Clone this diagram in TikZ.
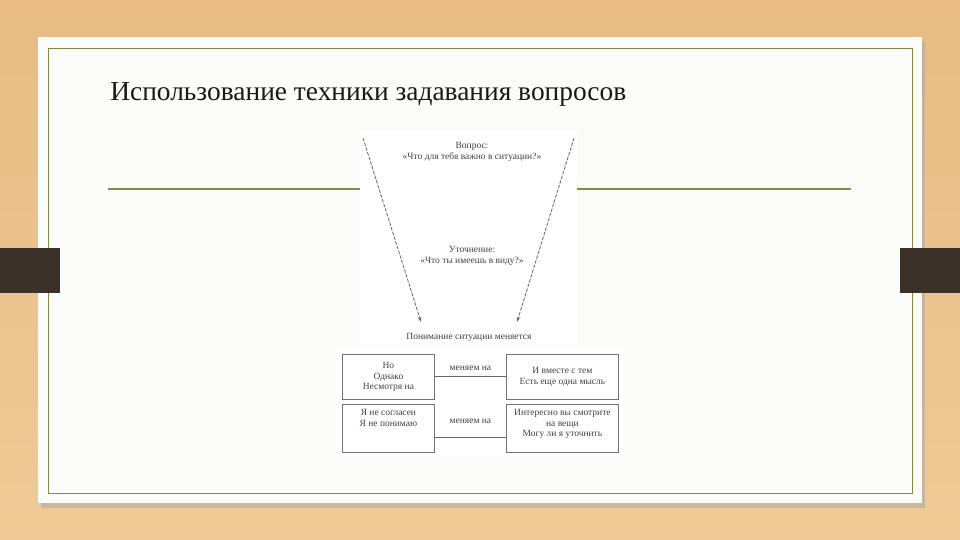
\documentclass[tikz,border=0pt]{standalone}
\usepackage{fontspec}
\setmainfont{Liberation Serif}
\usetikzlibrary{arrows.meta,positioning}
\definecolor{woodtop}{HTML}{E8BC84}
\definecolor{woodbot}{HTML}{EECA96}
\definecolor{tabbrown}{HTML}{3B3129}
\definecolor{frameolive}{HTML}{7F8B48}
\definecolor{cardwhite}{HTML}{FBFBF9}
\tikzset{
	tinytext/.style={font=\fontsize{5.4}{6}\selectfont, align=center, inner sep=0pt, text=black!75},
	phrasebox/.style={draw=black!55, line width=0.5pt, inner sep=0pt, minimum width=1.84cm},
	pointer/.style={line width=0.45pt, color=black!60, dash pattern=on 2pt off 0.8pt, -{Stealth[length=3pt,width=2pt]}},
	swapline/.style={line width=0.5pt, color=black!60}
}

\begin{document}
\begin{tikzpicture}[x=0.02cm, y=-0.02cm]
		%%%%% START %%%%%
		\useasboundingbox (0, 0) rectangle (960, 540);
		
		% slide background and card
		\shade[top color=woodtop, bottom color=woodbot] (0, 0) rectangle (960, 540);
		\fill[black!35, opacity=0.5] (41, 42) rectangle (925, 508);
		\fill[cardwhite] (38, 37) rectangle (922, 503);
		\draw[frameolive, line width=0.5pt] (48, 48) rectangle (912, 493);
		
		\fill[tabbrown] (0, 248) rectangle (60, 293);
		\fill[tabbrown] (900, 248) rectangle (960, 293);
		
		\draw[frameolive, line width=0.6pt] (108, 189) -- (360, 189);
		\draw[frameolive, line width=0.6pt] (577, 189) -- (851, 189);
		
		\node[anchor=base west, inner sep=0pt, font=\fontsize{15.6}{17}\selectfont, text=black!90] (title) at (110, 101) {Использование техники задавания вопросов};
		
		% funnel picture
		\fill[white] (360, 130) rectangle (577, 345);
		\node[tinytext] (question) at (472, 152) {Вопрос:\\«Что для тебя важно в ситуации?»};
		\node[tinytext] (clarify) at (472, 256) {Уточнение:\\«Что ты имеешь в виду?»};
		\node[tinytext] (result) at (469, 337) {Понимание ситуации меняется};
		
		\coordinate (lefttop) at (363, 138);
		\coordinate (righttop) at (574, 138);
		\coordinate (leftend) at (421, 322);
		\coordinate (rightend) at (517, 322);
		\draw[pointer] (lefttop) -- (leftend);
		\draw[pointer] (righttop) -- (rightend);
		
		% phrase boxes
		\fill[white] (336, 348) rectangle (624, 456);
		\node[phrasebox, minimum height=0.9cm, anchor=north west] (butbox) at (342, 354) {};
		\node[phrasebox, minimum height=0.96cm, anchor=north west] (disagreebox) at (342, 404) {};
		\node[phrasebox, minimum width=2.24cm, minimum height=0.9cm, anchor=north west] (alsobox) at (506, 354) {};
		\node[phrasebox, minimum width=2.24cm, minimum height=0.96cm, anchor=north west] (curiousbox) at (506, 404) {};
		
		\node[tinytext] at (butbox.center) {Но\\Однако\\Несмотря на};
		\node[tinytext] at (alsobox.center) {И вместе с тем\\Есть еще одна мысль};
		\node[tinytext, anchor=north] at ([yshift=-0.1cm]disagreebox.north) {Я не согласен\\Я не понимаю};
		\node[tinytext, anchor=north] at ([yshift=-0.1cm]curiousbox.north) {Интересно вы смотрите\\на вещи\\Могу ли я уточнить};
		
		\draw[swapline] (butbox.east) -- (alsobox.west) node[tinytext, midway, above=0.12cm] {меняем на};
		\coordinate (lowswap) at (470, 437);
		\draw[swapline] (disagreebox.east |- lowswap) -- (curiousbox.west |- lowswap) node[tinytext, midway, above=0.26cm] {меняем на};
		
		%%%%% END %%%%%
	\end{tikzpicture}
\end{document}
